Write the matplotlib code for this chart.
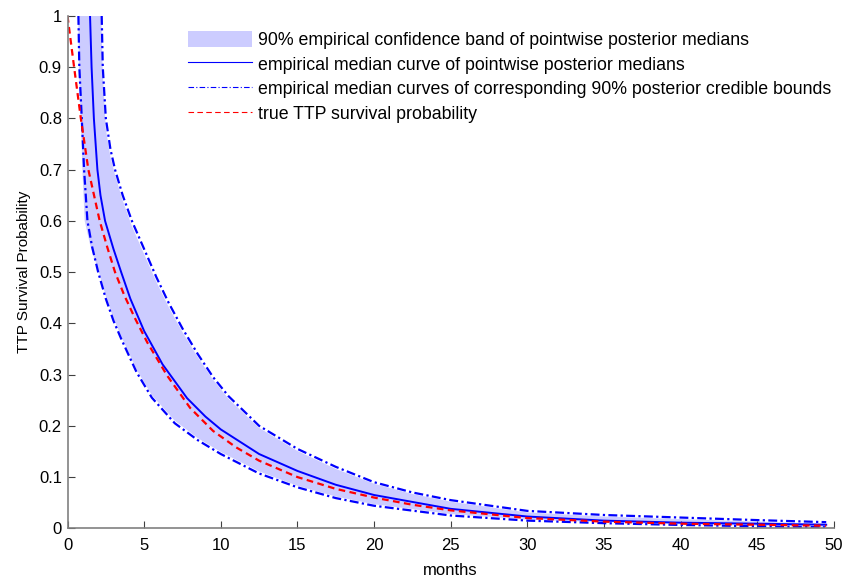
import numpy as np
import matplotlib
matplotlib.use("Agg")
import matplotlib.pyplot as plt
from matplotlib.patches import Patch
from matplotlib.lines import Line2D
from matplotlib.ticker import FuncFormatter

plt.rcParams['font.family'] = ['Liberation Sans', 'DejaVu Sans']

# pointwise posterior medians (empirical median curve)
median_t = [1.47, 1.57, 1.72, 1.95, 2.15, 2.45, 3.0, 3.5, 4.1, 5.0, 6.2, 7.8, 9.0, 10, 12.5, 15, 17.5, 20, 25, 30, 35, 40, 45, 49.5]
median_s = [1.0, 0.9, 0.8, 0.7, 0.65, 0.6, 0.545, 0.5, 0.448, 0.385, 0.32, 0.254, 0.218, 0.193, 0.145, 0.112, 0.085, 0.065, 0.038, 0.023, 0.015, 0.011, 0.009, 0.007]

# true TTP survival
true_t = [0, 0.43, 0.87, 1.36, 2.1, 2.6, 3.1, 3.7, 4.4, 5.2, 6.5, 8.0, 9.5, 11, 12.5, 15, 17.5, 20, 22.5, 25, 30, 35, 40, 45, 49.5]
true_s = [1.0, 0.9, 0.8, 0.7, 0.6, 0.548, 0.5, 0.455, 0.41, 0.363, 0.298, 0.235, 0.19, 0.158, 0.132, 0.1, 0.077, 0.06, 0.046, 0.035, 0.02, 0.013, 0.009, 0.007, 0.005]

# median curves of the 90% credible bounds
upper_t = [2.23, 2.3, 2.5, 2.8, 3.1, 3.6, 4.2, 5.0, 5.8, 6.6, 7.5, 8.5, 9.5, 10.5, 12.5, 15, 17.5, 20, 22.5, 25, 30, 35, 40, 45, 49.5]
upper_s = [1.0, 0.9, 0.8, 0.74, 0.7, 0.65, 0.6, 0.545, 0.49, 0.44, 0.39, 0.34, 0.295, 0.258, 0.2, 0.155, 0.12, 0.09, 0.07, 0.055, 0.034, 0.026, 0.021, 0.016, 0.012]
lower_t = [0.71, 0.77, 0.93, 1.08, 1.3, 1.6, 2.0, 2.5, 3.0, 3.5, 4.5, 5.5, 7.0, 8.5, 10, 12.5, 15, 17.5, 20, 25, 30, 35, 40, 45, 49.5]
lower_s = [1.0, 0.9, 0.8, 0.7, 0.6, 0.55, 0.5, 0.448, 0.405, 0.37, 0.305, 0.255, 0.205, 0.172, 0.145, 0.107, 0.08, 0.059, 0.044, 0.025, 0.015, 0.01, 0.0065, 0.004, 0.002]

# 90% empirical confidence band edges
band_hi_t = [2.2, 2.3, 2.5, 2.8, 3.1, 3.6, 4.2, 5.0, 5.8, 6.6, 7.5, 8.5, 9.5, 10.5, 12.5, 15, 17.5, 20, 22.5, 25, 30, 35, 40, 45, 49.5]
band_hi_s = [1.0, 0.89, 0.78, 0.725, 0.69, 0.64, 0.59, 0.535, 0.481, 0.432, 0.383, 0.334, 0.29, 0.253, 0.196, 0.151, 0.116, 0.087, 0.067, 0.052, 0.031, 0.023, 0.018, 0.013, 0.009]
band_lo_t = [0.7, 0.74, 0.86, 0.97, 1.12, 1.5, 2.0, 2.5, 3.0, 3.5, 4.5, 5.5, 7.0, 8.5, 10, 12.5, 15, 17.5, 20, 25, 30, 35, 40, 45, 49.5]
band_lo_s = [1.0, 0.9, 0.8, 0.7, 0.6, 0.55, 0.505, 0.453, 0.41, 0.375, 0.31, 0.26, 0.21, 0.176, 0.149, 0.111, 0.083, 0.062, 0.047, 0.028, 0.017, 0.012, 0.008, 0.005, 0.003]

labels = ['90% empirical confidence band of pointwise posterior medians',
          'empirical median curve of pointwise posterior medians',
          'empirical median curves of corresponding 90% posterior credible bounds',
          'true TTP survival probability']

band_col = '#ccccff'
dashdot = (0, (4, 1.5, 1, 1.5))
fig = plt.figure(figsize=(8.44, 5.77), dpi=100)
ax = fig.add_axes([0.08, 0.0844, 0.908, 0.8879])

ax.fill(np.r_[band_hi_t, band_lo_t[::-1]], np.r_[band_hi_s, band_lo_s[::-1]],
        color=band_col, lw=0)
ax.plot(upper_t, upper_s, color='blue', lw=1.6, ls=dashdot)
ax.plot(lower_t, lower_s, color='blue', lw=1.6, ls=dashdot)
ax.plot(median_t, median_s, color='blue', lw=1.4)
ax.plot(true_t, true_s, color='red', lw=1.6, ls=(0, (3, 2)))

ax.set_xlim(0, 50)
ax.set_ylim(0, 1)
ax.set_xticks(np.arange(0, 51, 5))
ax.set_yticks(np.arange(0, 1.01, 0.1))
ax.yaxis.set_major_formatter(FuncFormatter(lambda v, p: '%g' % round(v, 2)))
ax.tick_params(direction='in', length=5, labelsize=12, color='#404040', pad=4)
ax.tick_params(axis='x', pad=7)
for s in ['top', 'right']:
    ax.spines[s].set_visible(False)
for s in ['left', 'bottom']:
    ax.spines[s].set_color('#808080')
    ax.spines[s].set_linewidth(1.2)

ax.set_xlabel('months', fontsize=12, labelpad=7)
ax.set_ylabel('TTP Survival Probability', fontsize=11, labelpad=6)

handles = [Patch(facecolor=band_col, edgecolor='none'),
           Line2D([], [], color='blue', lw=0.8),
           Line2D([], [], color='blue', lw=0.8, ls=(0, (5, 2, 1, 2))),
           Line2D([], [], color='red', lw=0.8, ls=(0, (5, 3)))]
ax.legend(handles, labels, loc='upper left', bbox_to_anchor=(0.157, 0.971),
          frameon=False, fontsize=12.8, handlelength=3.62, handleheight=1.0,
          handletextpad=0.3, labelspacing=0.37, borderpad=0, borderaxespad=0)

fig.savefig('out.png', dpi=100)
